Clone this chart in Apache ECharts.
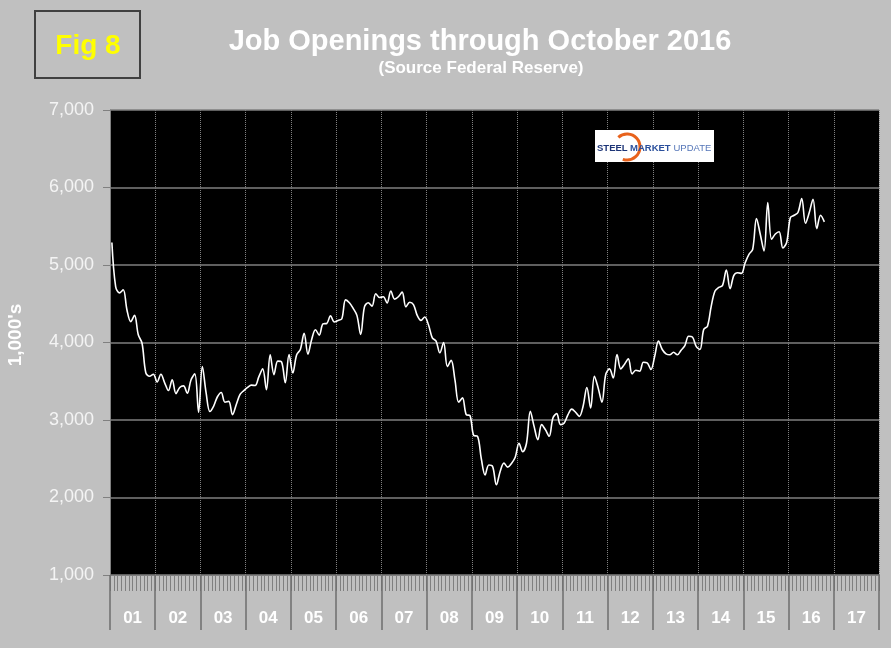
<!DOCTYPE html>
<html>
<head>
<meta charset="utf-8">
<script src="https://cdn.jsdelivr.net/npm/echarts@6/dist/echarts.min.js"></script>
<style>
html,body{margin:0;padding:0;background:#c0c0c0;}
#chart{width:891px;height:648px;}
</style>
</head>
<body>
<div id="chart"></div>
<script>
// Year labels on the x axis
const years = ['01','02','03','04','05','06','07','08','09','10','11','12','13','14','15','16','17'];
// Y axis range / ticks (thousands)
const yMin = 1000, yMax = 7000, yStep = 1000;

// Monthly job openings (1,000's), Jan 2001 - Oct 2016
const y2001 = [5290,4720,4640,4680,4420,4270,4350,4100,3990,3610,3565,3590];
const y2002 = [3490,3590,3480,3380,3520,3340,3420,3440,3345,3520,3595,3100];
const y2003 = [3690,3350,3110,3180,3300,3355,3230,3240,3070,3200,3330,3380];
const y2004 = [3420,3450,3445,3560,3660,3392,3840,3586,3760,3750,3480,3845];
const y2005 = [3608,3840,3910,4120,3850,4040,4165,4095,4240,4246,4345,4265];
const y2006 = [4285,4307,4550,4513,4440,4350,4104,4460,4513,4470,4630,4580];
const y2007 = [4590,4510,4664,4560,4590,4650,4460,4520,4490,4350,4285,4330];
const y2008 = [4225,4060,4017,3867,4000,3690,3770,3520,3230,3285,3070,3056];
const y2009 = [2800,2790,2500,2290,2420,2401,2164,2336,2444,2392,2440,2520];
const y2010 = [2700,2590,2703,3112,2918,2746,2940,2875,2790,3026,3082,2940];
const y2011 = [2962,3070,3140,3100,3047,3177,3420,3155,3565,3414,3230,3586];
const y2012 = [3660,3544,3845,3660,3720,3789,3595,3642,3629,3745,3737,3651];
const y2013 = [3823,4020,3910,3854,3841,3875,3841,3900,3960,4080,4070,3950];
const y2014 = [3910,4168,4211,4470,4664,4710,4737,4935,4694,4866,4900,4892];
const y2015 = [5030,5138,5203,5600,5397,5181,5807,5332,5400,5430,5220,5290];
const y2016 = [5613,5642,5677,5858,5539,5677,5849,5470,5642,5556];

const openings = [].concat(y2001,y2002,y2003,y2004,y2005,y2006,y2007,y2008,
  y2009,y2010,y2011,y2012,y2013,y2014,y2015,y2016);

// monthly categories for the 17 years
const months = [];
years.forEach(y => { for (let m = 1; m <= 12; m++) months.push(y + '-' + (m < 10 ? '0' + m : m)); });

const chart = echarts.init(document.getElementById('chart'), null, {renderer: 'canvas'});
const FONT = '"Liberation Sans", Arial, sans-serif';

chart.setOption({
  animation: false,
  backgroundColor: '#c0c0c0',
  grid: {left: 110, right: 12, top: 110, bottom: 73, show: true, backgroundColor: '#000000', borderWidth: 0},
  xAxis: [
    {
      type: 'category', data: months, boundaryGap: true, position: 'bottom',
      axisLine: {show: true, lineStyle: {color: '#808080', width: 1}},
      axisTick: {show: true, interval: 0, length: 16, lineStyle: {color: '#808080', width: 1}},
      axisLabel: {show: false},
      splitLine: {show: false}
    },
    {
      type: 'category', data: years, boundaryGap: true, position: 'bottom',
      axisLine: {show: false},
      axisTick: {show: true, interval: 0, length: 55, lineStyle: {color: '#6e6e6e', width: 1.5}},
      axisLabel: {show: true, interval: 0, margin: 35, color: '#ffffff', fontSize: 17, fontWeight: 'bold', fontFamily: FONT},
      splitLine: {show: true, interval: 0, lineStyle: {color: '#808080', type: 'dotted', width: 1}}
    }
  ],
  yAxis: {
    type: 'value', min: yMin, max: yMax, interval: yStep,
    axisLine: {show: true, lineStyle: {color: '#808080', width: 1}},
    axisTick: {show: true, length: 7, lineStyle: {color: '#808080', width: 1}},
    axisLabel: {margin: 16, color: '#f4f4f4', fontSize: 18, fontFamily: FONT,
      formatter: v => v.toLocaleString('en-US')},
    splitLine: {show: true, lineStyle: {color: '#7f7f7f', width: 1.5}}
  },
  series: [{
    type: 'line', data: openings, xAxisIndex: 0, smooth: 0.35,
    showSymbol: false, symbol: 'none',
    lineStyle: {color: '#ffffff', width: 1.6}
  }],
  graphic: [
    {type: 'rect', shape: {x: 35, y: 11, width: 105, height: 67},
      style: {fill: '#c0c0c0', stroke: '#404040', lineWidth: 2}, z: 10},
    {type: 'text', x: 88, y: 46, z: 11,
      style: {text: 'Fig 8', fill: '#ffff00', font: 'bold 28px ' + FONT, align: 'center', verticalAlign: 'middle'}},
    {type: 'text', x: 480, y: 42, z: 11,
      style: {text: 'Job Openings through October 2016', fill: '#ffffff', font: 'bold 29px ' + FONT, align: 'center', verticalAlign: 'middle'}},
    {type: 'text', x: 481, y: 68, z: 11,
      style: {text: '(Source Federal Reserve)', fill: '#ffffff', font: 'bold 17px ' + FONT, align: 'center', verticalAlign: 'middle'}},
    {type: 'text', x: 16, y: 335, rotation: Math.PI / 2, z: 11,
      style: {text: "1,000's", fill: '#ffffff', font: 'bold 19px ' + FONT, align: 'center', verticalAlign: 'middle'}},
    // logo
    {type: 'rect', shape: {x: 595, y: 130, width: 119, height: 32}, style: {fill: '#ffffff'}, z: 10},
    {type: 'arc', shape: {cx: 627, cy: 147, r: 13, startAngle: -2.3, endAngle: 1.9, clockwise: true},
      style: {stroke: '#e8621c', lineWidth: 3, fill: null}, z: 11},
    {type: 'text', x: 597, y: 148, z: 12,
      style: {text: 'STEEL', fill: '#1d3577', font: 'bold 9.5px ' + FONT, align: 'left', verticalAlign: 'middle'}},
    {type: 'text', x: 630, y: 148, z: 12,
      style: {text: 'MARKET', fill: '#2a4f9c', font: 'bold 9.5px ' + FONT, align: 'left', verticalAlign: 'middle'}},
    {type: 'text', x: 673.5, y: 148, z: 12,
      style: {text: 'UPDATE', fill: '#5576b8', font: '9.5px ' + FONT, align: 'left', verticalAlign: 'middle'}}
  ]
});
</script>
</body>
</html>
